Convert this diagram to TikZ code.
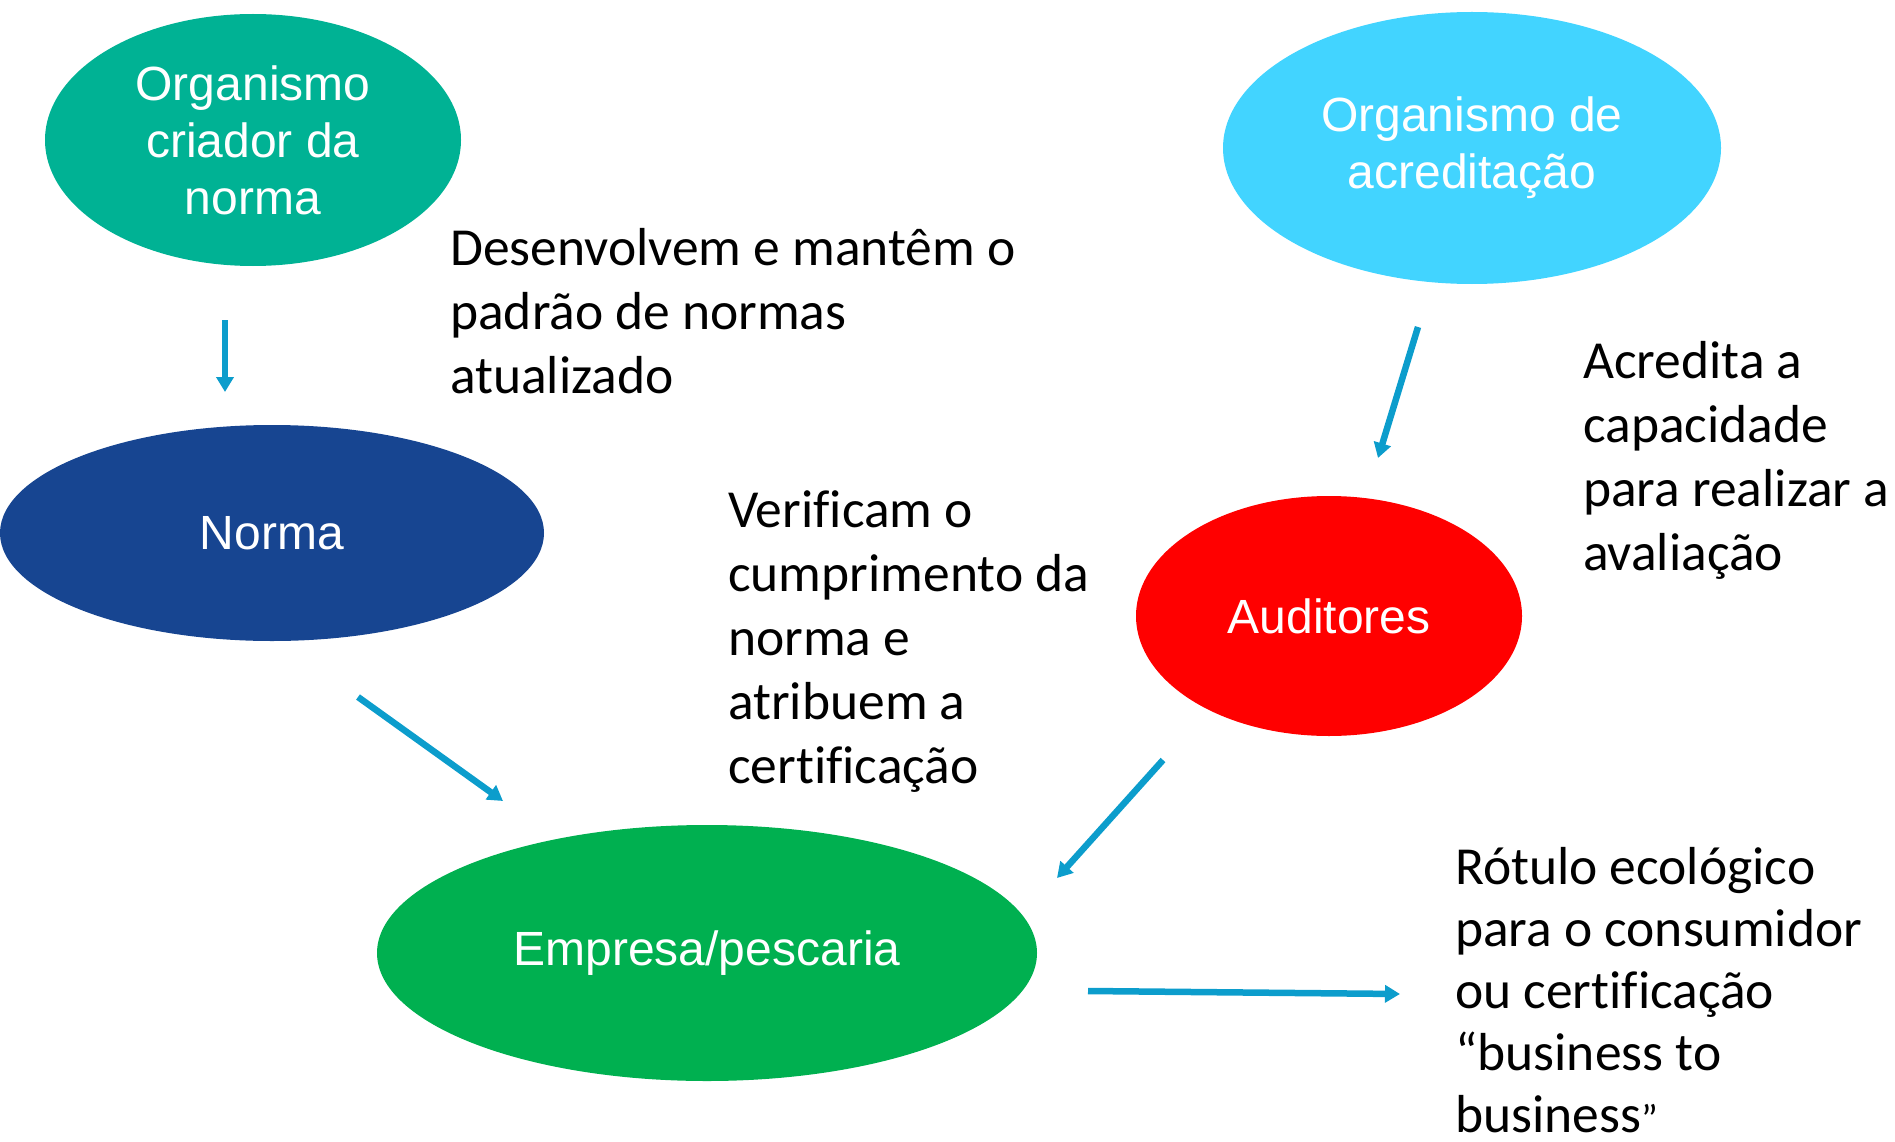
\documentclass[tikz,border=0pt]{standalone}
\usepackage{fontspec}
\setmainfont{Carlito}[Ligatures=NoCommon]
\newfontfamily\arialfont{Liberation Sans}
\usepackage{xcolor}
\usetikzlibrary{shapes.geometric}
\usetikzlibrary{arrows.meta}

\definecolor{creatorteal}{RGB}{0,178,148}
\definecolor{accredblue}{RGB}{66,212,255}
\definecolor{normblue}{RGB}{23,69,145}
\definecolor{auditred}{RGB}{255,0,0}
\definecolor{firmgreen}{RGB}{0,176,80}
\definecolor{flowblue}{RGB}{12,157,204}

\tikzset{
  blob/.style={ellipse, inner sep=0pt, text=white, align=center,
    font=\arialfont\fontsize{48}{57}\selectfont},
  note/.style={anchor=base west, inner sep=0pt, align=left,
    font=\fontsize{53.5}{64}\selectfont},
  flow/.style={line width=6.5pt, draw=flowblue,
    -{Triangle[width=17pt,length=15pt]}}
}

\begin{document}
\begin{tikzpicture}[x=1pt, y=-1pt]

  \useasboundingbox (0,0) rectangle (1895,1142);

%%%%%%%%%%%% Ellipses
  \node[blob, fill=creatorteal, minimum width=416pt, minimum height=252pt]
    (creator) at (253,140) {Organismo\\criador da\\norma};
  \node[blob, fill=accredblue, minimum width=498pt, minimum height=272pt]
    (accred) at (1472,148) {Organismo de\\acreditação};
  \node[blob, fill=normblue, minimum width=544pt, minimum height=216pt]
    (norma) at (272,533) {Norma};
  \node[blob, fill=auditred, minimum width=386pt, minimum height=240pt]
    (auditors) at (1329,616) {Auditores};
  \node[blob, fill=firmgreen, minimum width=660pt, minimum height=256pt]
    (firm) at (707,953) {Empresa/pescaria};

%%%%%%%%%%%% Notes (placed at the baseline of their last line)
  \node[note] (keep) at (450,393)
    {Desenvolvem e mantêm o\\padrão de normas\\atualizado};
  \node[note] (verify) at (728,783)
    {Verificam o\\cumprimento da\\norma e\\atribuem a\\certificação};
  \node[note] (capable) at (1583,570)
    {Acredita a\\capacidade\\para realizar a\\avaliação};
  \node[note, font=\fontsize{53.5}{62}\selectfont] (label) at (1455,1132)
    {Rótulo ecológico\\para o consumidor\\ou certificação\\“business to\\business{\fontsize{40}{40}\selectfont ”}};

%%%%%%%%%%%% Arrows
  \coordinate (c1) at (225,320);  \coordinate (n1) at (225,392);
  \coordinate (a1) at (1418,327); \coordinate (u1) at (1378,458);
  \coordinate (n2) at (358,697);  \coordinate (f1) at (503,801);
  \coordinate (u2) at (1163,760); \coordinate (f2) at (1057,878);
  \coordinate (f3) at (1088,991); \coordinate (e1) at (1400,994);

  \draw[flow] (c1) -- (n1);
  \draw[flow] (a1) -- (u1);
  \draw[flow] (n2) -- (f1);
  \draw[flow] (u2) -- (f2);
  \draw[flow] (f3) -- (e1);
\end{tikzpicture}
\end{document}
